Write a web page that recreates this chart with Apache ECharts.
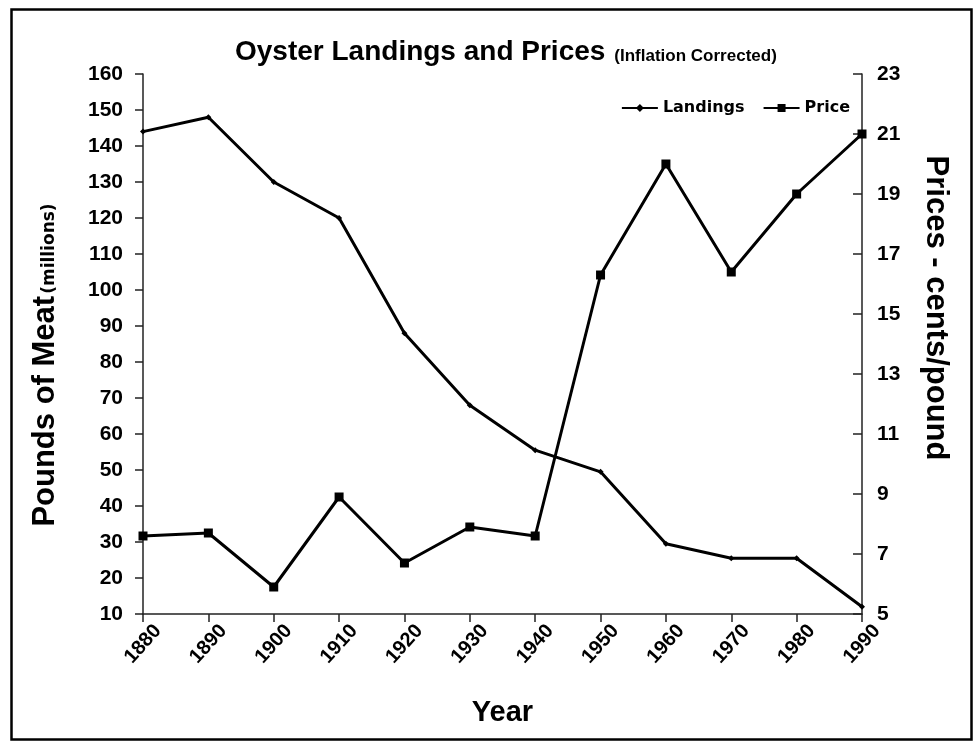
<!DOCTYPE html>
<html>
<head>
<meta charset="utf-8">
<script src="https://cdn.jsdelivr.net/npm/echarts@6/dist/echarts.min.js"></script>
<style>
html,body{margin:0;padding:0;background:#fff;}
#c{width:979px;height:745px;}
</style>
</head>
<body>
<div id="c"></div>
<script>
const years = [1880,1890,1900,1910,1920,1930,1940,1950,1960,1970,1980,1990];
const landings = [144,148,130,120,88,68,55.5,49.5,29.5,25.5,25.5,12];
const price = [7.6,7.7,5.9,8.9,6.7,7.9,7.6,16.3,20,16.4,19,21];
const leftTicks = {min:10, max:160, interval:10};
const rightTicks = {min:5, max:23, interval:2};

const FONT = '"Liberation Sans", Arial, sans-serif';
const chart = echarts.init(document.getElementById('c'));
const pair = (xs, ys) => xs.map((x,i)=>[x, ys[i]]);

chart.setOption({
  animation:false,
  backgroundColor:'#fff',
  title:{
    text:'{a|Oyster Landings and Prices} {b|(Inflation Corrected)}',
    left:230, top:33,
    textStyle:{
      rich:{
        a:{fontFamily:FONT, fontSize:28, fontWeight:'bold', color:'#000'},
        b:{fontFamily:FONT, fontSize:17, fontWeight:'bold', color:'#000', padding:[8,0,0,4]}
      }
    }
  },
  legend:{
    right:124, top:95,
    itemWidth:36, itemHeight:10, itemGap:18,
    textStyle:{fontFamily:'"DejaVu Sans", sans-serif', fontSize:16, fontWeight:'bold', color:'#000'},
    data:['Landings','Price']
  },
  grid:{left:143, right:117, top:74, bottom:131, containLabel:false, outerBoundsMode:'none'},
  xAxis:{
    type:'value', min:1880, max:1990, interval:10,
    name:'Year', nameLocation:'middle', nameGap:84,
    nameTextStyle:{fontFamily:FONT, fontSize:29, fontWeight:'bold', color:'#000'},
    axisLine:{lineStyle:{color:'#222', width:1.5}},
    axisTick:{show:true, length:8, lineStyle:{color:'#222', width:1.5}},
    splitLine:{show:false},
    axisLabel:{rotate:48, align:'center', verticalAlign:'middle', margin:30, fontFamily:FONT, fontSize:20, fontWeight:'bold', color:'#000', formatter:v=>String(v)}
  },
  yAxis:[{
    type:'value', position:'left',
    min:leftTicks.min, max:leftTicks.max, interval:leftTicks.interval,
    name:'{a|Pounds of Meat}{b|(millions)}', nameLocation:'middle', nameGap:82, nameRotate:90,
    nameTextStyle:{padding:[0,42,0,0], rich:{
      a:{fontFamily:FONT, fontSize:31, fontWeight:'bold', color:'#000'},
      b:{fontFamily:'"DejaVu Sans", sans-serif', fontSize:17, fontWeight:'bold', color:'#000', padding:[8,0,0,2]}
    }},
    axisLine:{show:true, lineStyle:{color:'#222', width:1.5}},
    axisTick:{show:true, length:8, lineStyle:{color:'#222', width:1.5}},
    splitLine:{show:false},
    axisLabel:{margin:20, fontFamily:FONT, fontSize:21, fontWeight:'bold', color:'#000'}
  },{
    type:'value', position:'right',
    min:rightTicks.min, max:rightTicks.max, interval:rightTicks.interval,
    name:'Prices - cents/pound', nameLocation:'middle', nameGap:58, nameRotate:-90,
    nameTextStyle:{fontFamily:FONT, fontSize:31, fontWeight:'bold', color:'#000', padding:[0,72,0,0]},
    axisLine:{show:true, lineStyle:{color:'#222', width:1.5}},
    axisTick:{show:true, inside:true, length:9, lineStyle:{color:'#222', width:1.5}},
    splitLine:{show:false},
    axisLabel:{margin:15, fontFamily:FONT, fontSize:21, fontWeight:'bold', color:'#000'}
  }],
  graphic:[{
    type:'rect', left:9, top:7, silent:true, z:-1,
    shape:{width:960, height:730},
    style:{fill:'none', stroke:'#000', lineWidth:2.5}
  }],
  series:[{
    name:'Landings', type:'line', yAxisIndex:0,
    data:pair(years, landings),
    symbol:'diamond', symbolSize:6, showSymbol:true,
    lineStyle:{color:'#000', width:3},
    itemStyle:{color:'#000'}
  },{
    name:'Price', type:'line', yAxisIndex:1,
    data:pair(years, price),
    symbol:'rect', symbolSize:9, showSymbol:true,
    lineStyle:{color:'#000', width:3},
    itemStyle:{color:'#000'}
  }]
});
</script>
</body>
</html>
